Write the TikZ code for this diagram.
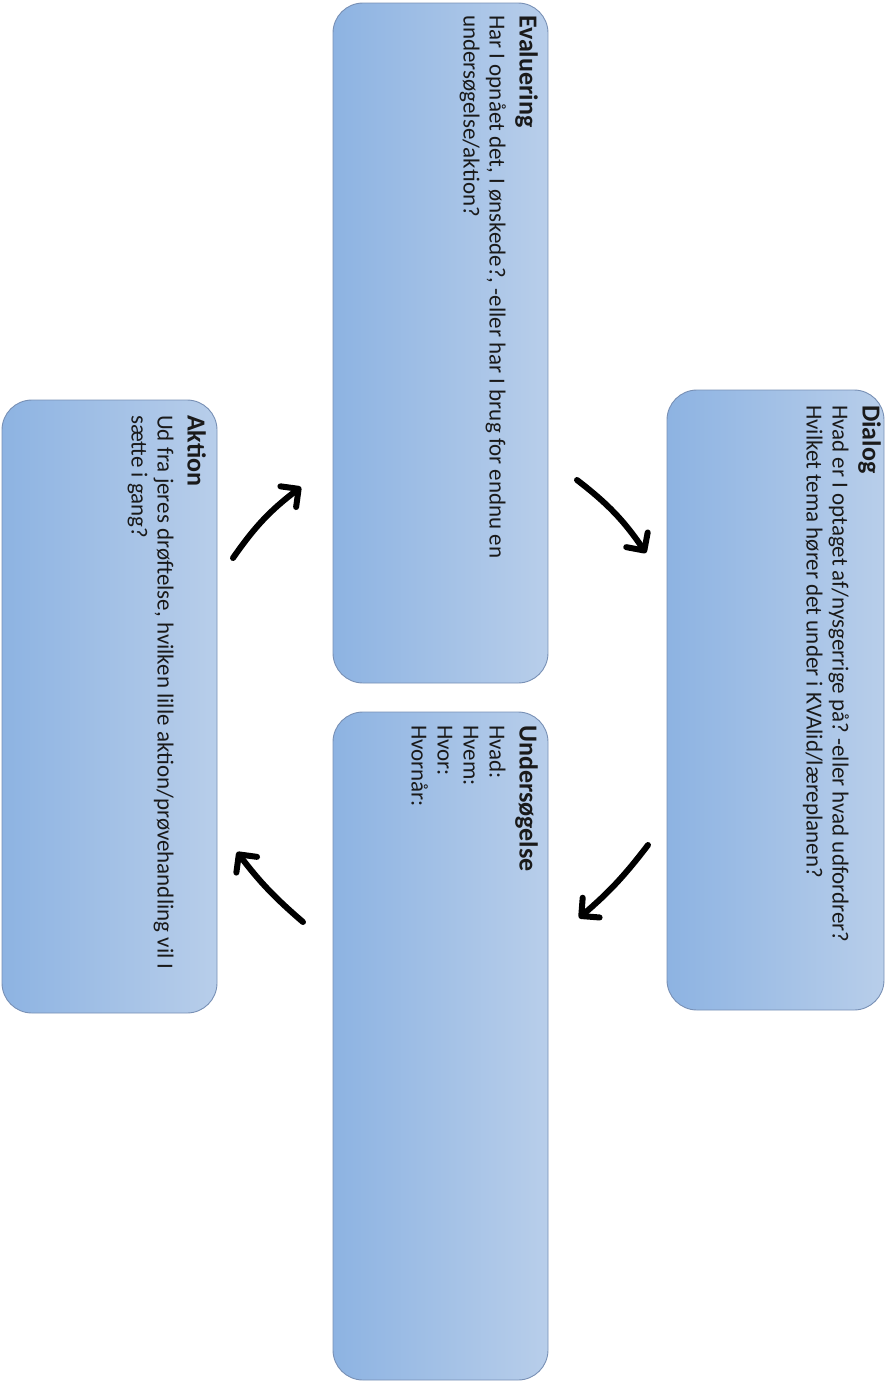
\documentclass[tikz,border=0pt]{standalone}
\usepackage{fontspec}
\setmainfont{Carlito}
\frenchspacing
\usetikzlibrary{arrows.meta}
\definecolor{boxL}{HTML}{8DB3E2}
\definecolor{boxR}{HTML}{B8CEEA}
\definecolor{boxB}{HTML}{7890B5}
\definecolor{txt}{HTML}{1A1A1A}
\newcommand{\ttl}[1]{{\fontsize{26}{30}\selectfont\bfseries #1}}
\begin{document}
\begin{tikzpicture}[x=1pt,y=1pt,
  card/.style={draw=boxB, line width=0.9pt, rounded corners=30pt, left color=boxL, right color=boxR, inner sep=0pt, outer sep=0pt},
  txtbox/.style={rotate=-90, inner sep=0pt, align=left, anchor=north west, font=\fontsize{23}{26}\selectfont, text=txt},
  arr/.style={line width=6pt, line cap=round, -{Straight Barb[length=13pt,width=26pt,line cap=round,line join=round]}}]
\useasboundingbox (0,0) rectangle (887,-1382);
% boxes
\node[card, minimum width=217pt, minimum height=620pt] (dialog) at (775.5,-700) {};
\node[card, minimum width=215pt, minimum height=680pt] (eval) at (440.5,-343) {};
\node[card, minimum width=215pt, minimum height=668pt] (unders) at (440.5,-1046) {};
\node[card, minimum width=215pt, minimum height=613pt] (aktion) at (109.5,-706.5) {};
% texts
\node[txtbox] (dialogtext) at (881,-405) {\ttl{Dialog}\\[4pt]Hvad er I optaget af/nysgerrige på? -eller hvad udfordrer?\\Hvilket tema hører det under i KVAlid/læreplanen?};
\node[txtbox] (evaltext) at (538,-15) {\ttl{Evaluering}\\[4pt]Har I opnået det, I ønskede?, -eller har I brug for endnu en\\undersøgelse/aktion?};
\node[txtbox] (underst) at (538,-725) {\ttl{Undersøgelse}\\[4pt]Hvad:\\Hvem:\\Hvor:\\Hvornår:};
\node[txtbox] (aktiontext) at (206,-415) {\ttl{Aktion}\\[4pt]Ud fra jeres drøftelse, hvilken lille aktion/prøvehandling vil I\\sætte i gang?};
% arrows
\coordinate (a1s) at (577,-480); \coordinate (a1e) at (646,-553);
\coordinate (a2s) at (648,-845); \coordinate (a2e) at (579,-918);
\coordinate (a3s) at (303,-922); \coordinate (a3e) at (237,-852);
\coordinate (a4s) at (233,-558); \coordinate (a4e) at (301,-487);
\draw[arr] (a1s) to[bend left=9] (a1e);
\draw[arr] (a2s) to[bend left=6] (a2e);
\draw[arr] (a3s) to[bend left=6] (a3e);
\draw[arr] (a4s) to[bend left=9] (a4e);
\end{tikzpicture}
\end{document}
